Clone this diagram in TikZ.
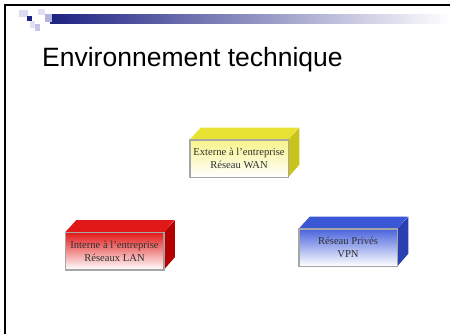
\documentclass[tikz,border=0pt]{standalone}
\usepackage{fontspec}
\setmainfont{Liberation Serif}
\newfontfamily\titrefont{Liberation Sans}
\usepackage{tikz}
\usetikzlibrary{positioning}

\definecolor{jauneface}{HTML}{F8F38A}
\definecolor{jaunehaut}{HTML}{E8E232}
\definecolor{jaunecote}{HTML}{C9C41C}
\definecolor{rougeface}{HTML}{E21A1A}
\definecolor{rougehaut}{HTML}{E01818}
\definecolor{rougecote}{HTML}{B40000}
\definecolor{bleuface}{HTML}{4A64DE}
\definecolor{bleuhaut}{HTML}{3A58D6}
\definecolor{bleucote}{HTML}{2840B0}
\definecolor{marine}{HTML}{1E2282}
\definecolor{lavande}{HTML}{C4C4E8}
\definecolor{texte}{HTML}{303030}

\begin{document}
\begin{tikzpicture}[
            x=1pt,y=-1pt,
            boite/.style={
              draw=gray!70,
              line width=0.6pt,
              minimum width=98pt,
              minimum height=37pt,
              inner sep=0pt,
              align=center,
              text=texte,
              font=\fontsize{10.6}{13}\selectfont,
              top color=#1face,
              bottom color=white
            },
            carre/.style={fill=#1}
            ]
            \useasboundingbox (0,0) rectangle (450,334);
            % cadre
            \draw[line width=2pt] (450,5) -- (5,5) -- (5,334);
            % logo et bandeau
            \fill[carre=lavande!60] (19,10) rectangle (28,17);
            \fill[carre=marine] (27,16) rectangle (32,21);
            \fill[carre=lavande!50] (30,21) rectangle (35,28);
            \fill[carre=lavande] (35,24) rectangle (40,31);
            \fill[carre=lavande!50] (38,9) rectangle (45,15);
            \shade[left color=marine,right color=white] (50,15) rectangle (450,24);
            \fill[carre=lavande!90!marine] (45,14) rectangle (52,22);
            \node[anchor=base west,inner sep=0pt,font=\titrefont\fontsize{26.5}{30}\selectfont] (titre) at (42,67) {Environnement technique};
            % les trois reseaux
            \node[boite=jaune] (wan) at (239,158.5) {Externe à l’entreprise\\Réseau WAN};
            \node[boite=rouge] (lan) at (114.5,251) {Interne à l’entreprise\\Réseaux LAN};
            \node[boite=bleu] (vpn) at (348,247.5) {Réseau Privés\\VPN};
            \foreach \n/\c in {wan/jaune,lan/rouge,vpn/bleu}{
              \fill[\c haut] (\n.north west) -- ++(11,-12) -- ++(98,0) -- (\n.north east) -- cycle;
              \fill[\c cote] (\n.north east) -- ++(11,-12) -- ++(0,37) -- (\n.south east) -- cycle;
              \draw[gray!70,line width=0.6pt] (\n.north west) rectangle (\n.south east);
            }
        \end{tikzpicture}
\end{document}
